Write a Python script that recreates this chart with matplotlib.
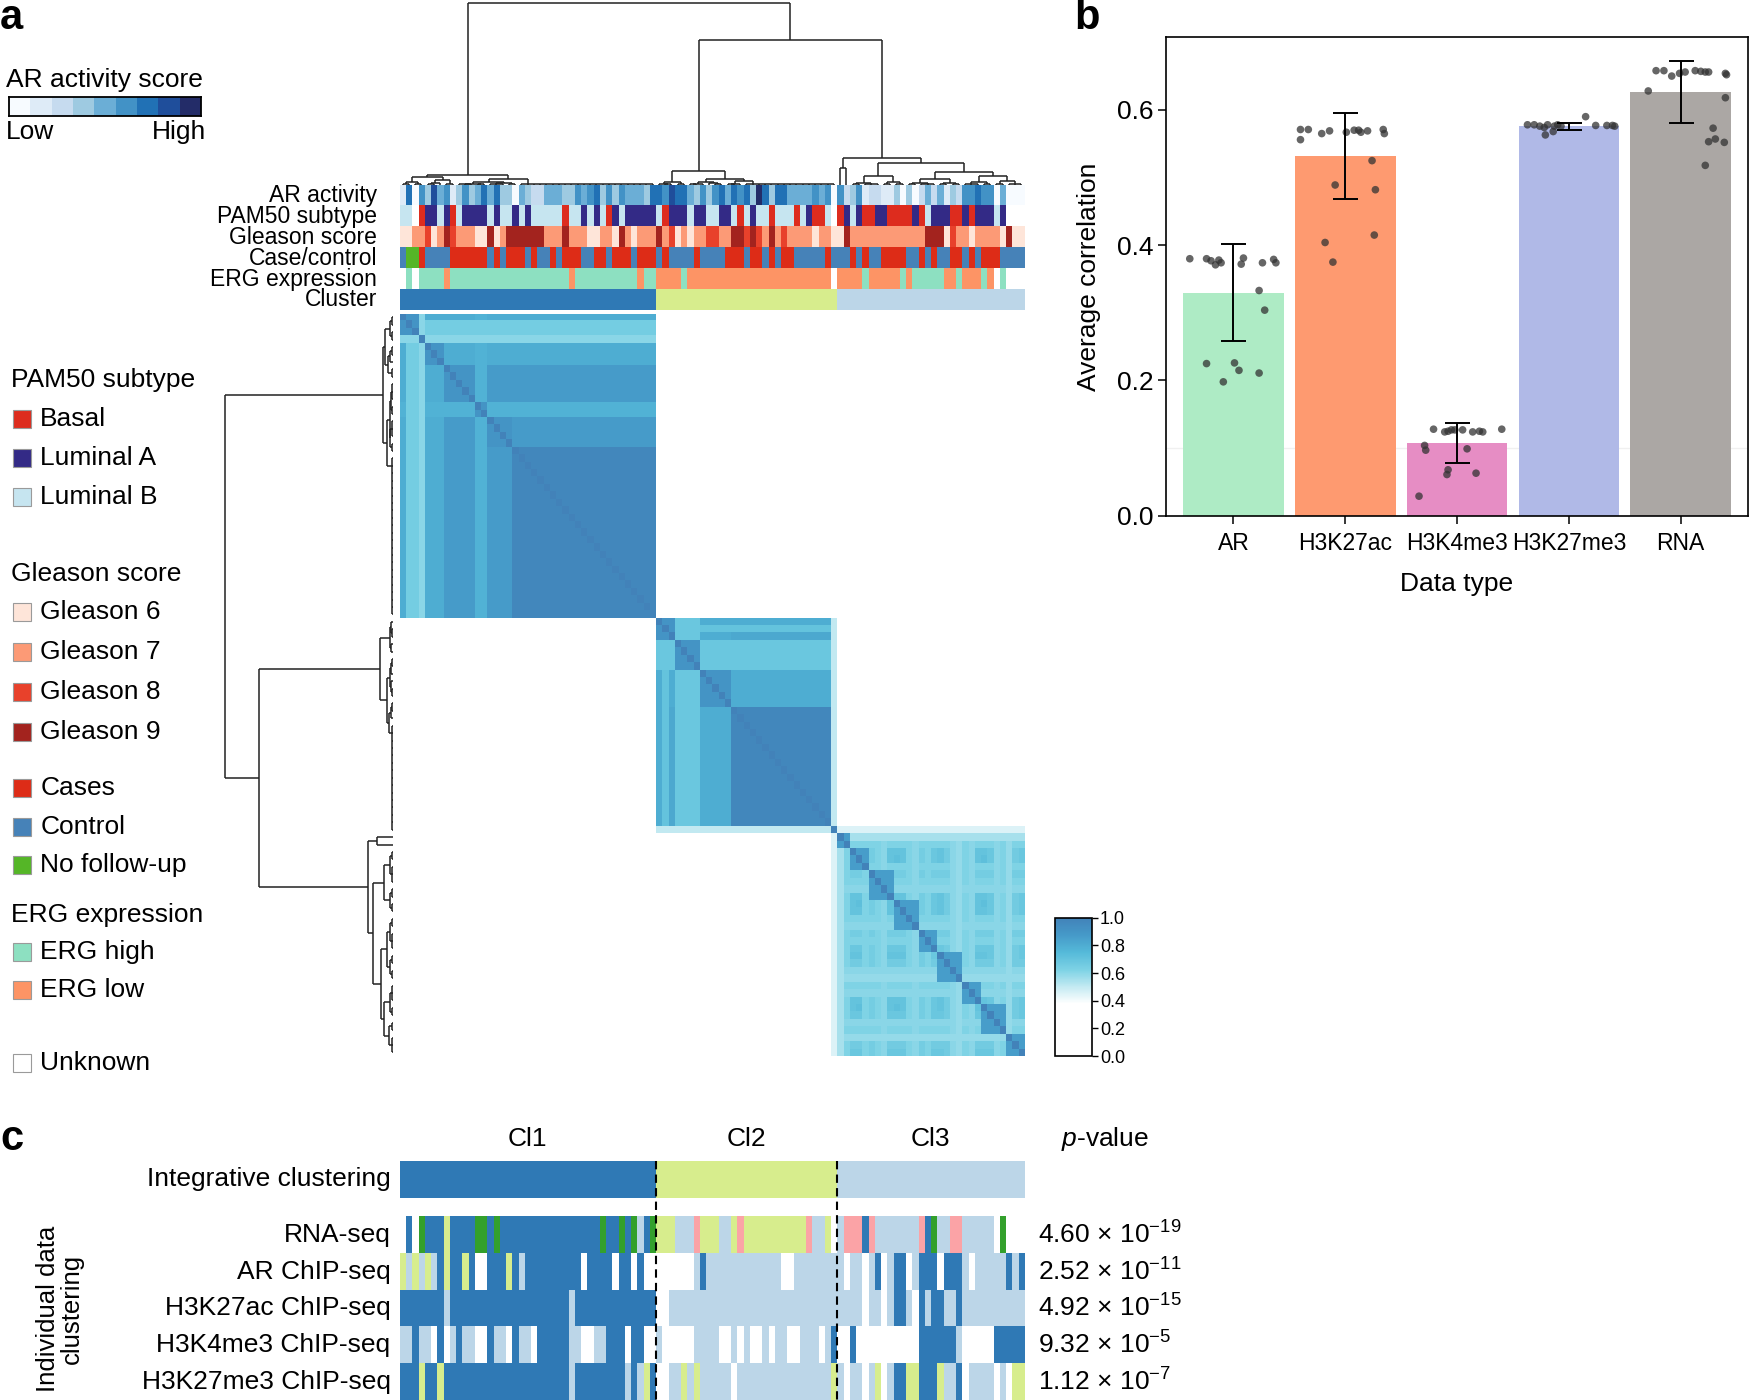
import numpy as np
import matplotlib
matplotlib.use('Agg')
import matplotlib.pyplot as plt
from matplotlib.colors import LinearSegmentedColormap, to_rgb
from matplotlib.patches import Rectangle

plt.rcParams['font.family'] = ['Liberation Sans', 'DejaVu Sans']
plt.rcParams['mathtext.fontset'] = 'custom'
plt.rcParams['mathtext.rm'] = 'Liberation Sans'
plt.rcParams['mathtext.it'] = 'Liberation Sans:italic'
plt.rcParams['mathtext.bf'] = 'Liberation Sans:bold'

# ---------------- data ----------------
cluster_sizes = [41, 29, 30]

# annotation tracks (per sample, run-length "code*count")
ar_activity = ("16053745135346463304322444335456353544436"
               "657664353" "5646563863664444545" "0"
               "5235122113" "0302424132" "5565504000")
pam50 = ("L*2 U B A*2 L A B L A*4 L A L*2 A L A L*5 B L*2 A L A L B A L A*5 "
         "L B A*3 L A*2 L L A*2 L B L A L*2 B L*3 B L A B*2 L U "
         "B A L A B*2 A*2 B*4 A B L A*3 B*2 A B A*3 L A U*3")
gleason = ("6*2 7*2 8 6 7 9 8 7*3 6*2 9 6 7 9*6 7*3 9 7*3 6*2 7*2 6 9 7 6 7*3 "
           "9 7 8 6 7 6 7*2 8 8 7*2 9*2 8 9 8 7 9 7 8 7*4 6 7*2 6 "
           "6 9 7*12 9*3 6 8 7*2 6 7*4 6 9 6*2")
case_control = ("K N*2 C K*4 C*6 K C K C*3 K C K*2 C K C*3 K*2 C*2 K C*3 K C*3 "
                "K C K*4 C K*2 K*2 C*3 K C*2 K C K C*2 K*5 C K "
                "K*2 C K C K*2 C*4 K*2 C K C K*2 C*2 K C K C*3 K*4")
erg = ("U H U H*4 W H*19 W H*10 W H*2 "
       "W*4 H W*4 W*19 U "
       "W*4 H W*5 H W H*5 W*2 H W*3 H W U H U*3")

# consensus matrix description: per-sample stability and sub-group
c1_strength = "0.8 0.65*2 0.6 0.8*3 0.87*5 0.78*2 0.87*4 0.97*23"
c1_group = "0*3 1 2*3 3*5 4*2 5*4 6*23"
c2_strength = "0.8 0.7 0.82 0.68*4 0.8*5 0.97*16 0.5"
c2_group = "0*3 1*4 2*5 3*16 4"
c3_strength = ("0.55 0.62 0.7 0.72 0.62 0.65 0.62 0.6 0.7 0.72 0.7 0.62 0.6 0.65 0.62 "
               "0.68 0.7 0.66 0.6 0.58 0.62 0.6 0.7 0.72 0.68 0.6 0.62 0.58 0.66 0.68")
c3_group = "0*2 1*3 2*4 3*4 4*3 5*4 6*3 7*4 8*3"
group_value = [0.9, 0.9, 0.86]
bridge_sample, bridge_cluster, bridge_value = 69, 2, 0.45

# dendrogram: (height, left, right), ints = groups of leaves
tree_c1 = (0.058, (0.046, (0.02, 2, 2), (0.03, (0.015, 2, 1), 2)),
           (0.033, (0.02, (0.01, 3, 2), (0.015, 3, 2)), 22))
tree_c2 = (0.079, (0.018, (0.01, 1, 2), (0.01, 1, 1)),
           (0.037, (0.02, (0.01, 2, 1), (0.012, 1, 2)), (0.022, (0.01, 2, 1), 15)))
tree_c3 = (0.15, (0.095, 1, 1),
           (0.12, (0.05, (0.015, 2, 3), (0.02, 2, 2)),
            (0.073, (0.037, (0.015, 2, 3), (0.015, 2, 2)),
             (0.05, (0.02, 3, 2), (0.025, 2, 3)))))
tree = (1.0, tree_c1, (0.8, tree_c2, tree_c3))

# panel c: individual data clusterings
indiv_names = ['RNA-seq', 'AR ChIP-seq', 'H3K27ac ChIP-seq', 'H3K4me3 ChIP-seq', 'H3K27me3 ChIP-seq']
indiv_rows = [
    "0 1 0 4 1*3 2 1*4 4*2 1 4 1*16 4 1*2 4 1 4 3 1 4 "
    "2*3 3*3 5 2*2 2 3*2 2 5 2*10 5 3*2 2 0 "
    "3 5*3 1 5 3*7 5 1 4 3*2 5*2 3*5 0 4 0*3",
    "2 3 2 3 2 3 1 2 1*2 2 1 0*2 1*3 2 1 3 1*9 0 1*4 0 1*2 0 1 0*2 "
    "0*6 3 1 3 3*11 0*2 3*7 "
    "3 0 3*2 0 3 1 0 3 1*2 0 3 1*3 0 1*3 3 0 3*5 1 3 1",
    "1*7 3 1*19 3 1*13 "
    "0*2 3*7 3*20 "
    "3*4 0 3*2 0 3 1*2 3 0 1 3 1*2 3*2 1 3*10",
    "3*2 1 3*2 0 1 0 3 1 3*2 0*2 1 3*2 0 1 3*2 0 1*4 1 3*2 0*2 3*2 1*3 0 1*2 0*2 "
    "3 0*5 3*3 3 0*2 3 0 3 0*2 3 0 3*2 0*2 3*3 0 3 1 "
    "0*2 1 0*10 1*6 3 0*5 1*5",
    "1*3 2 1*2 2 1*20 3 1*8 3 1 3 2 1 "
    "0*2 3*2 2 3 2 3*2 3*3 0 3*15 2 "
    "3 0 3*2 0 3 2 0 3 1*2 2*2 1*3 2 3*2 1 0 3*4 0 3 0 2*2",
]
p_mantissa = ['4.60', '2.52', '4.92', '9.32', '1.12']
p_exponent = ['-19', '-11', '-15', '-5', '-7']

# panel b
data_types = ['AR', 'H3K27ac', 'H3K4me3', 'H3K27me3', 'RNA']
bar_mean = [0.330, 0.532, 0.1075, 0.5756, 0.626]
err_low = [0.259, 0.468, 0.0786, 0.571, 0.580]
err_high = [0.402, 0.596, 0.1365, 0.581, 0.673]
bar_colors = ['#aeebc5', '#fe9a70', '#e68dc4', '#b0b9e7', '#aba7a4']
pts_ar = [0.380, 0.380, 0.377, 0.371, 0.378, 0.374, 0.381, 0.372, 0.374, 0.379, 0.374,
          0.333, 0.304, 0.225, 0.226, 0.215, 0.211, 0.198]
dx_ar = [-0.39, -0.24, -0.20, -0.16, -0.13, -0.11, 0.09, 0.07, 0.26, 0.36, 0.38,
         0.23, 0.28, -0.24, 0.01, 0.05, 0.23, -0.09]
pts_k27ac = [0.556, 0.571, 0.571, 0.565, 0.569, 0.567, 0.570, 0.570, 0.567, 0.569, 0.571, 0.565,
             0.525, 0.489, 0.482, 0.404, 0.415, 0.375]
dx_k27ac = [-0.40, -0.40, -0.33, -0.21, -0.14, 0.01, 0.08, 0.12, 0.14, 0.20, 0.34, 0.35,
            0.24, -0.09, 0.27, -0.18, 0.26, -0.11]
pts_k4me3 = [0.128, 0.124, 0.125, 0.127, 0.127, 0.127, 0.124, 0.125, 0.124, 0.128,
             0.104, 0.097, 0.099, 0.068, 0.061, 0.063, 0.029]
dx_k4me3 = [-0.21, -0.11, -0.08, -0.05, -0.02, 0.05, 0.14, 0.20, 0.23, 0.40,
            -0.29, -0.28, 0.09, -0.08, -0.09, 0.17, -0.34]
pts_k27me3 = [0.578, 0.578, 0.576, 0.574, 0.563, 0.578, 0.568, 0.576, 0.578, 0.576,
              0.590, 0.577, 0.577, 0.577, 0.576]
dx_k27me3 = [-0.37, -0.31, -0.26, -0.22, -0.21, -0.19, -0.14, -0.13, -0.10, -0.07,
             0.15, 0.24, 0.34, 0.39, 0.41]
pts_rna = [0.628, 0.658, 0.658, 0.650, 0.654, 0.656, 0.658, 0.657, 0.656, 0.656, 0.654, 0.652,
           0.618, 0.573, 0.553, 0.557, 0.552, 0.518]
dx_rna = [-0.29, -0.22, -0.15, -0.08, -0.01, 0.04, 0.13, 0.18, 0.22, 0.25, 0.40, 0.41,
          0.40, 0.29, 0.25, 0.31, 0.39, 0.22]

# colours
ar_colors = ['#f7fbff', '#deebf7', '#c6dbef', '#9ecae1', '#6baed6', '#4292c6', '#2171b5', '#1f4e9b', '#232c68']
pam_colors = {'B': '#dd2c1e', 'A': '#332a86', 'L': '#c6e5f0', 'U': '#ffffff'}
gleason_colors = {'6': '#fee5d9', '7': '#fc9a76', '8': '#e8412b', '9': '#a3231e', 'U': '#ffffff'}
case_colors = {'C': '#dd2c17', 'K': '#4682b8', 'N': '#55b627'}
erg_colors = {'H': '#8de0c1', 'W': '#fd9465', 'U': '#ffffff'}
cluster_colors = ['#2f79b5', '#d7ed8d', '#bcd6e8']
indiv_colors = {'0': '#ffffff', '1': '#2f79b5', '2': '#d7ed8d', '3': '#bcd6e8', '4': '#33a02c', '5': '#fba3a6'}


def runs(s, f=str):
    out = []
    for tok in s.split():
        if '*' in tok:
            c, n = tok.split('*')
            out += [f(c)] * int(n)
        else:
            out.append(f(tok))
    return out


n = sum(cluster_sizes)
clus = np.repeat([0, 1, 2], cluster_sizes)
strength = runs(c1_strength, float) + runs(c2_strength, float) + runs(c3_strength, float)
group = ([('a', g) for g in runs(c1_group)] + [('b', g) for g in runs(c2_group)]
         + [('c', g) for g in runs(c3_group)])

M = np.full((n, n), 0.02)
for i in range(n):
    for j in range(n):
        if clus[i] == clus[j]:
            v = min(strength[i], strength[j])
            if group[i] == group[j]:
                v = max(v, group_value[clus[i]])
            M[i, j] = v
M[bridge_sample, clus == bridge_cluster] = bridge_value
M[clus == bridge_cluster, bridge_sample] = bridge_value
np.fill_diagonal(M, 1.0)

ann = np.zeros((6, n, 3))
ann[0] = [to_rgb(ar_colors[int(c)]) for c in ar_activity]
ann[1] = [to_rgb(pam_colors[c]) for c in runs(pam50)]
ann[2] = [to_rgb(gleason_colors[c]) for c in runs(gleason)]
ann[3] = [to_rgb(case_colors[c]) for c in runs(case_control)]
ann[4] = [to_rgb(erg_colors[c]) for c in runs(erg)]
ann[5] = [to_rgb(cluster_colors[c]) for c in clus]

# ---------------- figure ----------------
W, H = 1568.0, 1254.0
fig = plt.figure(figsize=(17.5, 14), dpi=100)


def box(x0, y0, x1, y1):
    return [x0 / W, 1 - y1 / H, (x1 - x0) / W, (y1 - y0) / H]


def ftext(x, y, s, **kw):
    fig.text(x / W, 1 - y / H, s, **kw)


def clean(ax):
    ax.set_xticks([])
    ax.set_yticks([])
    for sp in ax.spines.values():
        sp.set_visible(False)


def dendro(ax, node, orient):
    segs = []
    comb_h = 0.006

    def walk(nd, start):
        if isinstance(nd, int):
            if nd == 1:
                return start + 0.5, 0.0, start + 1
            xs = [start + k + 0.5 for k in range(nd)]
            for x in xs:
                segs.append(([x, x], [0, comb_h]))
            segs.append(([xs[0], xs[-1]], [comb_h, comb_h]))
            return xs[0] + min((nd - 1) / 2.0, 1.0), comb_h, start + nd
        h, a, b = nd
        xa, ha, nxt = walk(a, start)
        xb, hb, nxt = walk(b, nxt)
        segs.append(([xa, xa], [ha, h]))
        segs.append(([xb, xb], [hb, h]))
        segs.append(([xa, xb], [h, h]))
        return (xa + xb) / 2, h, nxt

    walk(node, 0)
    for xs, hs in segs:
        if orient == 'top':
            ax.plot(xs, hs, color='#222222', lw=1.1, clip_on=False, solid_capstyle='butt')
        else:
            ax.plot(hs, xs, color='#222222', lw=1.1, clip_on=False, solid_capstyle='butt')


# panel a: dendrograms
ax_top = fig.add_axes(box(358, 3, 918, 166))
dendro(ax_top, tree, 'top')
ax_top.set_xlim(0, n)
ax_top.set_ylim(0, 1.0)
clean(ax_top)

ax_left = fig.add_axes(box(202, 281, 352, 946))
dendro(ax_left, tree, 'left')
ax_left.set_ylim(n, 0)
ax_left.set_xlim(1.0, 0)
clean(ax_left)

# annotation tracks
ax_ann = fig.add_axes(box(358, 166, 918, 278))
ax_ann.imshow(ann, aspect='auto', interpolation='nearest', extent=(0, n, 6, 0))
clean(ax_ann)
ann_labels = ['AR activity', 'PAM50 subtype', 'Gleason score', 'Case/control', 'ERG expression', 'Cluster']
for k, lab in enumerate(ann_labels):
    ftext(338, 166 + 18.67 * (k + 0.5), lab, ha='right', va='center', fontsize=16.5)

# consensus heatmap
cmap = LinearSegmentedColormap.from_list('cons', [(0, '#ffffff'), (0.38, '#ffffff'), (0.5, '#c4eaf2'),
                                                  (0.62, '#7fd3e5'), (0.75, '#55bad9'), (0.88, '#4599c8'),
                                                  (1.0, '#4282b9')])
ax_hm = fig.add_axes(box(358, 281, 918, 946))
im = ax_hm.imshow(M, cmap=cmap, vmin=0, vmax=1, aspect='auto', interpolation='nearest',
                  extent=(0, n, n, 0))
clean(ax_hm)

ax_cb = fig.add_axes(box(945, 822, 978, 946))
cb = fig.colorbar(im, cax=ax_cb, ticks=[0, 0.2, 0.4, 0.6, 0.8, 1.0])
cb.ax.set_yticklabels(['0.0', '0.2', '0.4', '0.6', '0.8', '1.0'])
cb.ax.tick_params(labelsize=13, length=4, width=1, pad=2)
cb.outline.set_linewidth(1.2)

# AR activity legend
ftext(5, 72, 'AR activity score', ha='left', va='center', fontsize=19)
ax_ar = fig.add_axes(box(8, 87, 180, 104))
ax_ar.imshow([[to_rgb(c) for c in ar_colors]], aspect='auto', interpolation='nearest')
ax_ar.set_xticks([])
ax_ar.set_yticks([])
for sp in ax_ar.spines.values():
    sp.set_linewidth(1.3)
ftext(5, 118, 'Low', ha='left', va='center', fontsize=19)
ftext(185, 118, 'High', ha='right', va='center', fontsize=19)

# categorical legend
headers = [('PAM50 subtype', 340), ('Gleason score', 514), ('ERG expression', 820)]
for lab, y in headers:
    ftext(10, y, lab, ha='left', va='center', fontsize=19)
legend_items = [('Basal', pam_colors['B'], 375), ('Luminal A', pam_colors['A'], 410),
                ('Luminal B', pam_colors['L'], 445),
                ('Gleason 6', gleason_colors['6'], 548), ('Gleason 7', gleason_colors['7'], 584),
                ('Gleason 8', gleason_colors['8'], 620), ('Gleason 9', gleason_colors['9'], 656),
                ('Cases', case_colors['C'], 706), ('Control', case_colors['K'], 741),
                ('No follow-up', case_colors['N'], 775),
                ('ERG high', erg_colors['H'], 853), ('ERG low', erg_colors['W'], 887),
                ('Unknown', '#ffffff', 952)]
for lab, col, y in legend_items:
    fig.add_artist(Rectangle((12 / W, 1 - (y + 8) / H), 16 / W, 16 / H, transform=fig.transFigure,
                             facecolor=col, edgecolor='#9a9a9a', lw=0.8))
    ftext(36, y, lab, ha='left', va='center', fontsize=19)

# panel b
ax_b = fig.add_axes(box(1045, 33, 1566, 462))
xpos = np.arange(len(data_types))
ax_b.axhline(0.1, color='#f0f0f0', lw=1, zorder=0)
ax_b.bar(xpos, bar_mean, width=0.9, color=bar_colors, zorder=1)
all_pts = [(pts_ar, dx_ar), (pts_k27ac, dx_k27ac), (pts_k4me3, dx_k4me3),
           (pts_k27me3, dx_k27me3), (pts_rna, dx_rna)]
for k, (ys, dxs) in enumerate(all_pts):
    ax_b.scatter(np.array(dxs) + k, ys, s=30, color='#333333', alpha=0.75, edgecolors='none', zorder=3)
ax_b.errorbar(xpos, bar_mean, yerr=[np.array(bar_mean) - np.array(err_low), np.array(err_high) - np.array(bar_mean)],
              fmt='none', ecolor='black', elinewidth=1.4, capsize=9, capthick=1.4, zorder=4)
ax_b.set_xlim(-0.6, 4.6)
ax_b.set_ylim(0, 0.708)
ax_b.set_yticks([0, 0.2, 0.4, 0.6])
ax_b.set_yticklabels(['0.0', '0.2', '0.4', '0.6'])
ax_b.set_xticks(xpos)
ax_b.set_xticklabels(data_types)
ax_b.tick_params(axis='y', labelsize=19, length=6, width=1.1, pad=3)
ax_b.tick_params(axis='x', labelsize=16.5, length=6, width=1.1, pad=6)
for sp in ax_b.spines.values():
    sp.set_linewidth(1.2)
ax_b.set_ylabel('Average correlation', fontsize=19, labelpad=12)
ax_b.set_xlabel('Data type', fontsize=19, labelpad=12)

# panel c
ax_c = fig.add_axes(box(358, 1040, 918, 1254))
integ = np.array([[to_rgb(cluster_colors[c]) for c in clus]])
ax_c.imshow(integ, aspect='auto', interpolation='nearest', extent=(0, n, 33.5, 0))
indiv = np.array([[to_rgb(indiv_colors[c]) for c in runs(r)] for r in indiv_rows])
ax_c.imshow(indiv, aspect='auto', interpolation='nearest', extent=(0, n, 214, 50))
bounds = np.cumsum(cluster_sizes)[:-1]
ax_c.vlines(bounds, 0, 214, colors='black', linestyles=(0, (4, 2.5)), lw=1.5)
ax_c.set_xlim(0, n)
ax_c.set_ylim(214, 0)
clean(ax_c)

starts = np.concatenate([[0], np.cumsum(cluster_sizes)])
for k, lab in enumerate(['Cl1', 'Cl2', 'Cl3']):
    xc = 358 + (starts[k] + starts[k + 1]) / 2 / n * 560
    ftext(xc, 1020, lab, ha='center', va='center', fontsize=19)
ftext(990, 1020, r'$\it{p}$-value', ha='center', va='center', fontsize=19)
ftext(350, 1056, 'Integrative clustering', ha='right', va='center', fontsize=19)
row_h = (1254 - 1090) / 5.0
for k, lab in enumerate(indiv_names):
    yc = 1090 + row_h * (k + 0.5)
    ftext(350, yc, lab, ha='right', va='center', fontsize=19)
    ptxt = p_mantissa[k] + ' \u00d7 10$^{\\mathregular{' + p_exponent[k] + '}}$'
    ftext(930, yc, ptxt, ha='left', va='center', fontsize=19)
ftext(54, 1172, 'Individual data\nclustering', ha='center', va='center', rotation=90,
      fontsize=18.5, multialignment='center', linespacing=1.0)

# panel letters
ftext(0, 16, 'a', ha='left', va='center', fontsize=30, fontweight='bold')
ftext(963, 16, 'b', ha='left', va='center', fontsize=30, fontweight='bold')
ftext(0, 1020, 'c', ha='left', va='center', fontsize=30, fontweight='bold')

fig.savefig('out.png', dpi=100)
